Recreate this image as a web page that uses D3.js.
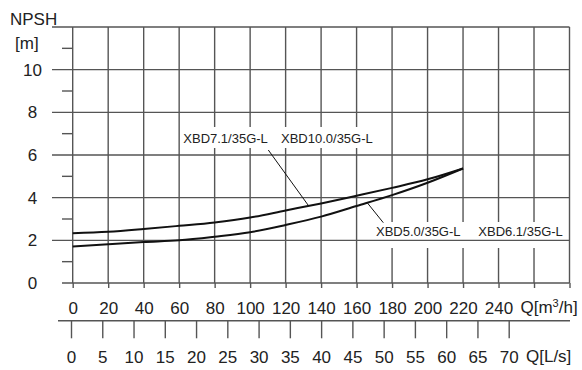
<!DOCTYPE html>
<html>
<head>
<meta charset="utf-8">
<script src="https://cdn.jsdelivr.net/npm/d3@7"></script>
<style>
  html, body { margin: 0; padding: 0; background: #fff; }
  svg { display: block; }
  text { font-family: Arial, "Liberation Sans", sans-serif; fill: #222; }
</style>
</head>
<body>
<svg id="chart" width="582" height="370"></svg>
<script>
// ---------------- data ----------------
const flowM3h   = [0, 20, 40, 60, 80, 100, 120, 140, 160, 180, 200, 220];
const npshUpper = [2.33, 2.40, 2.53, 2.68, 2.84, 3.07, 3.40, 3.73, 4.09, 4.46, 4.86, 5.37]; // XBD7.1 / XBD10.0
const npshLower = [1.71, 1.82, 1.92, 2.00, 2.17, 2.38, 2.72, 3.11, 3.61, 4.12, 4.70, 5.37]; // XBD5.0 / XBD6.1
const labelsUpper = ["XBD7.1/35G-L", "XBD10.0/35G-L"];
const labelsLower = ["XBD5.0/35G-L", "XBD6.1/35G-L"];
const yTickLabels = [0, 2, 4, 6, 8, 10];
const yMinor = [1, 3, 5, 7, 9, 11];
const yMajorGrid = [2, 4, 6, 8, 10, 12];
const xGridM3h = [0, 20, 40, 60, 80, 100, 120, 140, 160, 180, 200, 220, 240, 260, 280];
const xTickLabelsM3h = [0, 20, 40, 60, 80, 100, 120, 140, 160, 180, 200, 220, 240];
const xTicksLs = [0, 5, 10, 15, 20, 25, 30, 35, 40, 45, 50, 55, 60, 65, 70];

// ---------------- layout ----------------
const svg = d3.select("#chart");
const LEFT = 72.7, RIGHT = 569.5, TOP = 27, BOTTOM = 283;
const GRID = "#555", GW = 1.4, FS = 17;

const x = d3.scaleLinear().domain([0, 280]).range([LEFT, RIGHT]);
const y = d3.scaleLinear().domain([0, 12]).range([BOTTOM, TOP]);
const xLs = d3.scaleLinear().domain([0, 70]).range([71, 508.7]);

// vertical grid lines (with small tick below axis)
svg.append("g").selectAll("line").data(xGridM3h).join("line")
  .attr("x1", d => x(d)).attr("x2", d => x(d))
  .attr("y1", TOP).attr("y2", BOTTOM)
  .attr("stroke", GRID).attr("stroke-width", GW);

// white boxes behind labels
svg.append("rect").attr("x", 181).attr("y", 127).attr("width", 195).attr("height", 21).attr("fill", "#fff");
svg.append("rect").attr("x", 372).attr("y", 222).attr("width", 194).attr("height", 26).attr("fill", "#fff");

// horizontal major grid lines
svg.append("g").selectAll("line").data(yMajorGrid).join("line")
  .attr("x1", 52).attr("x2", RIGHT)
  .attr("y1", d => y(d)).attr("y2", d => y(d))
  .attr("stroke", GRID).attr("stroke-width", GW);

// minor ticks on the y axis
svg.append("g").selectAll("line").data(yMinor).join("line")
  .attr("x1", 62).attr("x2", LEFT)
  .attr("y1", d => y(d)).attr("y2", d => y(d))
  .attr("stroke", GRID).attr("stroke-width", GW);

// y tick labels
svg.append("g").selectAll("text").data(yTickLabels).join("text")
  .attr("x", 32.5).attr("y", d => y(d)).attr("dy", "0.35em")
  .attr("text-anchor", "middle").attr("font-size", FS)
  .text(d => d);

// y title
svg.append("text").attr("x", 10).attr("y", 25).attr("font-size", FS).text("NPSH");
svg.append("text").attr("x", 15).attr("y", 48.5).attr("font-size", FS).text("[m]");

// ---------------- m3/h axis ----------------
const axM = d3.axisBottom(x).tickValues(xGridM3h).tickSize(5).tickSizeOuter(0)
  .tickFormat(d => xTickLabelsM3h.includes(d) ? d : "");
const gM = svg.append("g").attr("transform", `translate(0,${BOTTOM})`).call(axM);
gM.select(".domain").remove();
gM.selectAll(".tick line").attr("stroke", GRID).attr("stroke-width", GW);
gM.selectAll(".tick text").attr("y", 18.7).attr("dy", "0.71em")
  .attr("font-size", FS).attr("font-family", null).attr("fill", "#222");
svg.append("line").attr("x1", 62).attr("x2", RIGHT).attr("y1", BOTTOM).attr("y2", BOTTOM)
  .attr("stroke", GRID).attr("stroke-width", GW);
const qm = svg.append("text").attr("x", 520.5).attr("y", 312.7).attr("font-size", FS);
qm.append("tspan").text("Q[m");
qm.append("tspan").attr("font-size", 11).attr("dy", -6).text("3");
qm.append("tspan").attr("dy", 6).text("/h]");

// ---------------- L/s axis ----------------
const LSY = 320.7;
const axL = d3.axisBottom(xLs).tickValues(xTicksLs).tickSize(17.6).tickSizeOuter(0);
const gL = svg.append("g").attr("transform", `translate(0,${LSY})`).call(axL);
gL.select(".domain").remove();
gL.selectAll(".tick line").attr("stroke", GRID).attr("stroke-width", GW);
gL.selectAll(".tick text").attr("y", 30).attr("dy", "0.71em")
  .attr("font-size", FS).attr("font-family", null).attr("fill", "#222");
svg.append("line").attr("x1", 58).attr("x2", 570).attr("y1", LSY).attr("y2", LSY)
  .attr("stroke", GRID).attr("stroke-width", GW);
svg.append("text").attr("x", 526).attr("y", 361.7).attr("font-size", FS).text("Q[L/s]");

// ---------------- curves ----------------
const line = d3.line().curve(d3.curveMonotoneX);
[npshUpper, npshLower].forEach(vals => {
  svg.append("path")
    .attr("d", line(flowM3h.map((q, i) => [x(q), y(vals[i])])))
    .attr("fill", "none").attr("stroke", "#111").attr("stroke-width", 2);
});

// curve value at flow q (linear interpolation on data)
function valAt(vals, q) {
  const i = Math.min(d3.bisectRight(flowM3h, q) - 1, flowM3h.length - 2);
  const t = (q - flowM3h[i]) / (flowM3h[i + 1] - flowM3h[i]);
  return vals[i] + t * (vals[i + 1] - vals[i]);
}

// leader lines
const qUp = 133, qLo = 166;
svg.append("line").attr("x1", 268.3).attr("y1", 150)
  .attr("x2", x(qUp)).attr("y2", y(valAt(npshUpper, qUp)))
  .attr("stroke", "#111").attr("stroke-width", 1);
svg.append("line").attr("x1", 383.3).attr("y1", 222.7)
  .attr("x2", x(qLo)).attr("y2", y(valAt(npshLower, qLo)))
  .attr("stroke", "#111").attr("stroke-width", 1);

// series labels
const LFS = 13;
svg.append("text").attr("x", 183.3).attr("y", 142.7).attr("font-size", LFS).text(labelsUpper[0]);
svg.append("text").attr("x", 281).attr("y", 142.7).attr("font-size", LFS).text(labelsUpper[1]);
svg.append("text").attr("x", 376).attr("y", 235.5).attr("font-size", LFS).text(labelsLower[0]);
svg.append("text").attr("x", 478.3).attr("y", 235.5).attr("font-size", LFS).text(labelsLower[1]);
</script>
</body>
</html>
